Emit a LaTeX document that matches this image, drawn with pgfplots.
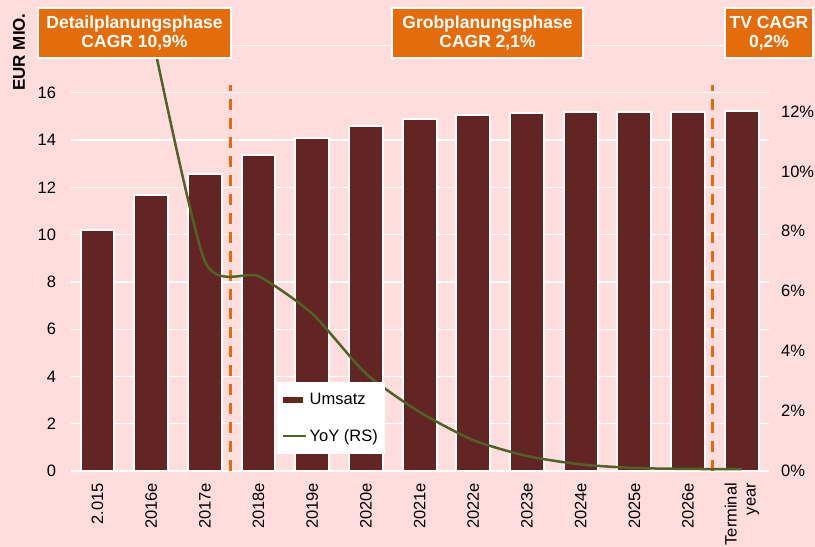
\documentclass[border=0pt]{standalone}
\usepackage{pgfplots}
\usepackage{pgfplotstable}
\pgfplotsset{compat=1.18}
\usepackage{fontspec}
\setmainfont{Liberation Sans}
\definecolor{bg}{HTML}{FFDDDD}
\definecolor{barc}{HTML}{632523}
\definecolor{org}{HTML}{E46C0A}
\definecolor{grn}{HTML}{4F6228}

\pgfplotstableread{
x y
0 10.20
1 11.68
2 12.57
3 13.38
4 14.10
5 14.60
6 14.90
7 15.07
8 15.14
9 15.17
10 15.18
11 15.20
12 15.21
}\umsatz

\pgfplotstableread{
x y
1 14.7
2 7.0
3 6.5
4 5.25
5 3.25
6 1.97
7 1.03
8 0.5
9 0.22
10 0.1
11 0.07
12 0.06
}\yoy

\newcommand{\tickfont}{\fontsize{16.5bp}{19bp}\selectfont}

\begin{document}
\begin{tikzpicture}
\path[fill=bg, use as bounding box] (-70.6bp,-76bp) rectangle (744.4bp,471bp);
\begin{axis}[
  at={(0,0)}, anchor=south west,
  scale only axis, width=698bp, height=425.5bp,
  xmin=-0.5, xmax=12.5, ymin=0, ymax=18,
  axis line style={draw=none},
  major tick length=0pt,
  /pgf/number format/assume math mode=true,
  ytick={0,2,...,18},
  yticklabels={0,2,4,6,8,10,12,14,16,{}},
  yticklabel style={font=\tickfont, xshift=-11bp},
  ymajorgrids,
  grid style={white, line width=1.3bp},
  xtick={0,...,12},
  xticklabels={2.015,2016e,2017e,2018e,2019e,2020e,2021e,2022e,2023e,2024e,2025e,2026e,{Terminal\\year}},
  xticklabel style={font=\tickfont, yshift=-8.5bp, rotate=90, anchor=east, align=right},
  ybar, bar width=0.63,
]
\addplot[fill=barc, draw=white, line width=2bp] table {\umsatz};
\draw[white, line width=2bp] (rel axis cs:0,0) -- (rel axis cs:1,0);
\draw[org, line width=3bp, dash pattern=on 11bp off 8bp] (axis cs:2.48,0) -- (axis cs:2.48,16.33);
\draw[org, line width=3bp, dash pattern=on 11bp off 8bp] (axis cs:11.46,0) -- (axis cs:11.46,16.33);
\end{axis}
\begin{axis}[
  at={(0,0)}, anchor=south west,
  scale only axis, width=698bp, height=425.5bp,
  xmin=-0.5, xmax=12.5, ymin=0, ymax=14.2,
  hide x axis,
  axis y line*=right,
  axis line style={draw=none},
  major tick length=0pt,
  /pgf/number format/assume math mode=true,
  ytick={0,2,...,12},
  yticklabels={0\%,2\%,4\%,6\%,8\%,10\%,12\%},
  yticklabel style={font=\tickfont, xshift=9bp},
  legend style={at={(0.2957,0.209)}, anchor=north west, draw=none, fill=white,
    inner xsep=5bp, inner ysep=9bp, row sep=19bp, font=\tickfont,
    cells={anchor=west}},
  legend cell align=left,
]
\addlegendimage{legend image code/.code={\fill[barc] (0bp,-2.5bp) rectangle (19bp,2.5bp);}}
\addlegendentry{Umsatz}
\addplot[smooth, tension=0.4, grn, line width=2.5bp,
  legend image code/.code={\draw[grn, line width=2.5bp] (0bp,0bp) -- (23bp,0bp);}] table {\yoy};
\addlegendentry{YoY (RS)}
\end{axis}
\node[rotate=90, font=\bfseries\fontsize{17bp}{19bp}\selectfont] at (-51.6bp,419bp) {EUR MIO.};
\tikzset{phase/.style={fill=org, draw=white, line width=1.5bp, minimum height=50bp, inner sep=0pt, align=center, text=white, font=\bfseries\fontsize{17.5bp}{18.5bp}\selectfont}}
\node[phase, minimum width=193bp] at (63.9bp,438bp) {Detailplanungsphase\\CAGR 10,9\%};
\node[phase, minimum width=191bp] at (416.9bp,438bp) {Grobplanungsphase\\CAGR 2,1\%};
\node[phase, minimum width=88bp] at (698.4bp,438bp) {TV CAGR\\0,2\%};
\end{tikzpicture}
\end{document}
